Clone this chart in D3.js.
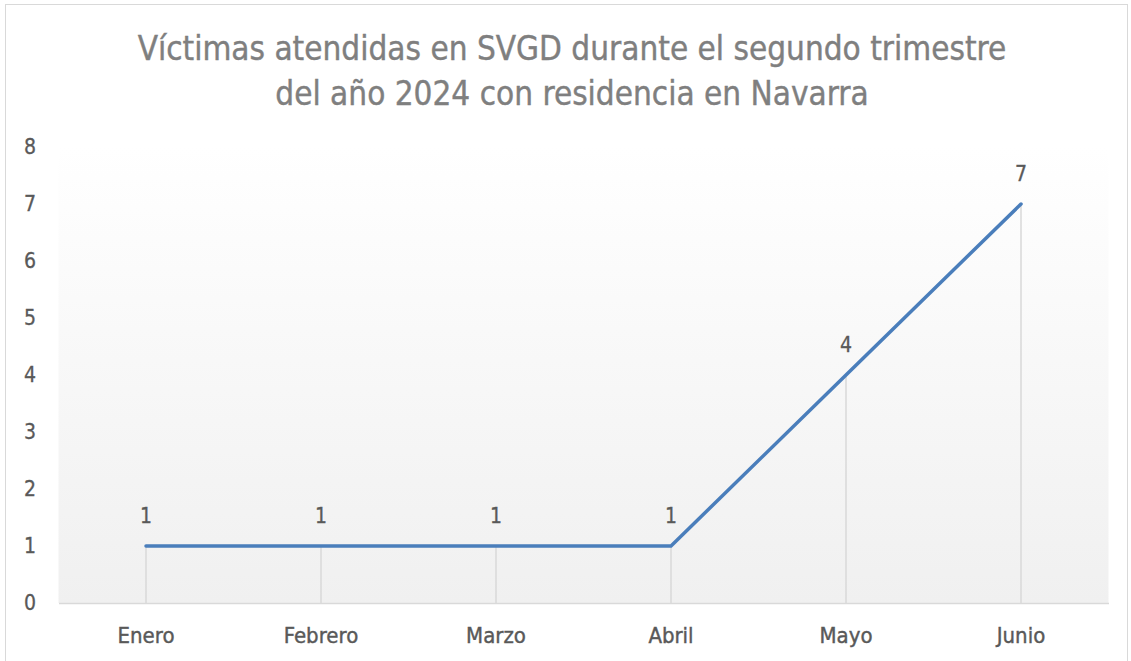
<!DOCTYPE html>
<html>
<head>
<meta charset="utf-8">
<script src="https://cdn.jsdelivr.net/npm/d3@7"></script>
<style>
  body { margin: 0; background: #fff; }
  text { font-family: "DejaVu Sans Condensed", "Liberation Sans Narrow", Roboto, sans-serif; }
</style>
</head>
<body>
<svg width="1131" height="661"></svg>
<script>
// data
var months = ['Enero', 'Febrero', 'Marzo', 'Abril', 'Mayo', 'Junio'];
var victims = [1, 1, 1, 1, 4, 7];
var yTicks = [0, 1, 2, 3, 4, 5, 6, 7, 8];
var titleLines = ['Víctimas atendidas en SVGD durante el segundo trimestre', 'del año 2024 con residencia en Navarra'];

var width = 1131, height = 661;
var margin = {top: 147, bottom: 58, left: 58.5, right: 22.5};

var svg = d3.select('svg');

// outer border
svg.append('rect')
  .attr('x', 5.5).attr('y', 4.5)
  .attr('width', 1122).attr('height', 660)
  .attr('fill', '#fff')
  .attr('stroke', '#d9d9d9');

// gradient for plot area
var grad = svg.append('defs').append('linearGradient')
  .attr('id', 'bg').attr('x1', 0).attr('y1', 0).attr('x2', 0).attr('y2', 1);
grad.append('stop').attr('offset', '0%').attr('stop-color', '#ffffff');
grad.append('stop').attr('offset', '100%').attr('stop-color', '#f0f0f0');

var xScale = d3.scaleBand()
  .domain(months)
  .range([margin.left, width - margin.right]);

var yScale = d3.scaleLinear()
  .domain([0, 8])
  .range([height - margin.bottom, margin.top]);

svg.append('rect')
  .attr('x', margin.left)
  .attr('y', yScale(8))
  .attr('width', xScale.range()[1] - margin.left)
  .attr('height', yScale(0) - yScale(8))
  .attr('fill', 'url(#bg)');

// title
svg.append('g').selectAll('text')
  .data(titleLines)
  .enter().append('text')
  .attr('x', 572)
  .attr('y', (d, i) => 60 + i * 45)
  .attr('text-anchor', 'middle')
  .attr('font-size', 33)
  .attr('fill', '#7f7f7f')
  .attr('stroke', '#7f7f7f')
  .attr('stroke-width', 0.4)
  .text(d => d);

var cx = d => xScale(d) + xScale.bandwidth() / 2;

// drop lines
svg.append('g').selectAll('line')
  .data(months)
  .enter().append('line')
  .attr('x1', cx).attr('x2', cx)
  .attr('y1', (d, i) => yScale(victims[i]))
  .attr('y2', yScale(0))
  .attr('stroke', '#d9d9d9')
  .attr('stroke-width', 1.5);

// x axis
var xAxis = d3.axisBottom(xScale).tickSize(0).tickPadding(24);
var gx = svg.append('g')
  .attr('transform', 'translate(' + [0, yScale(0)] + ')')
  .call(xAxis);
gx.select('.domain').attr('stroke', '#d9d9d9').attr('stroke-width', 1.5);
gx.selectAll('text').attr('font-size', 22).attr('fill', '#595959')
  .attr('stroke', '#595959').attr('stroke-width', 0.4);

// y axis
var yAxis = d3.axisLeft(yScale).tickValues(yTicks).tickSize(0).tickPadding(0);
var gy = svg.append('g')
  .attr('transform', 'translate(' + [36, 0] + ')')
  .call(yAxis);
gy.select('.domain').remove();
gy.selectAll('text').attr('font-size', 21).attr('fill', '#595959')
  .attr('stroke', '#595959').attr('stroke-width', 0.3)
  .attr('text-anchor', 'middle').attr('x', -6);

// line
var line = d3.line()
  .x((d, i) => cx(months[i]))
  .y(d => yScale(d));

svg.append('path')
  .datum(victims)
  .attr('d', line)
  .attr('fill', 'none')
  .attr('stroke', '#4a7ebb')
  .attr('stroke-width', 3.5)
  .attr('stroke-linecap', 'round')
  .attr('stroke-linejoin', 'round');

// labels
svg.append('g').selectAll('text')
  .data(victims)
  .enter().append('text')
  .attr('x', (d, i) => cx(months[i]))
  .attr('y', d => yScale(d) - 23)
  .attr('text-anchor', 'middle')
  .attr('font-size', 21)
  .attr('fill', '#595959')
  .attr('stroke', '#595959').attr('stroke-width', 0.3)
  .text(d => d);
</script>
</body>
</html>
